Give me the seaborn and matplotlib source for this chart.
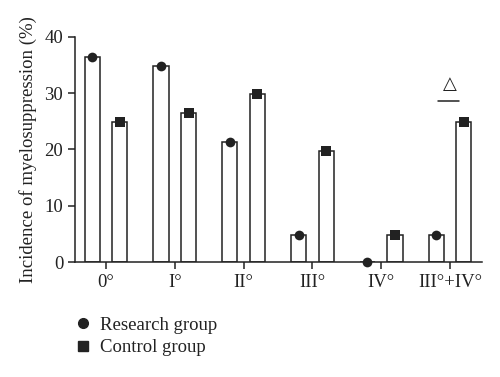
import pandas as pd
import matplotlib
matplotlib.use("Agg")
import matplotlib.pyplot as plt
import seaborn as sns
from matplotlib.lines import Line2D

# Values
grades = ["0°", "I°", "II°", "III°", "IV°", "III°+IV°"]
research = [36.4, 34.8, 21.4, 4.8, 0.0, 4.8]
control = [24.8, 26.4, 29.8, 19.8, 4.8, 24.8]
groups = ["Research group", "Control group"]
yticks = [0, 10, 20, 30, 40]

df = pd.DataFrame({
    "Grade": grades * 2,
    "Incidence": research + control,
    "Group": [groups[0]] * len(grades) + [groups[1]] * len(grades),
})

sns.set_style("ticks")
plt.rcParams["font.family"] = ["Liberation Serif", "DejaVu Sans"]
ink = "#222222"

fig = plt.figure(figsize=(5, 3.77), dpi=100)
ax = fig.add_axes([0.15, 0.305, 0.814, 0.597])

# white bars with dark outline
sns.barplot(data=df, x="Grade", y="Incidence", hue="Group", hue_order=groups,
            order=grades, palette=["white", "white"], edgecolor=ink, linewidth=1.1,
            width=0.8, gap=0.45, legend=False, ax=ax)

# markers on top of bars (circle = research, square = control)
for grp, mk, sz in [(groups[0], "o", 7), (groups[1], "s", 6.5)]:
    sns.stripplot(data=df[df["Group"] == grp], x="Grade", y="Incidence", hue="Group",
                  hue_order=groups, order=grades, palette=[ink, ink], dodge=True,
                  jitter=False, marker=mk, size=sz, legend=False, ax=ax,
                  clip_on=False, zorder=5)

ax.set_ylim(0, 40)
ax.set_xlim(-0.45, 5.465)
ax.set_yticks(yticks)
ax.set_xlabel("")
ax.set_ylabel("Incidence of myelosuppression (%)", fontsize=13.5, color=ink, labelpad=5)
ax.tick_params(axis="both", labelsize=13.5, colors=ink, length=5, width=1.1)
for s in ["left", "bottom"]:
    ax.spines[s].set_color(ink)
    ax.spines[s].set_linewidth(1.1)
sns.despine(ax=ax)

# significance mark above III°+IV°
ax.text(5.0, 30.0, "△", ha="center", va="bottom", fontsize=13, color=ink,
        family=["DejaVu Sans"])
ax.plot([4.82, 5.13], [28.6, 28.6], color=ink, lw=1.1, clip_on=False)

handles = [Line2D([], [], ls="", marker="o", color=ink, markersize=7),
           Line2D([], [], ls="", marker="s", color=ink, markersize=6.5)]
fig.legend(handles, groups, loc="upper left", bbox_to_anchor=(0.11, 0.205),
           frameon=False, fontsize=13.5, handletextpad=0.3, labelspacing=0.3,
           labelcolor=ink, handlelength=1.2)

fig.savefig("out.png", dpi=100)
